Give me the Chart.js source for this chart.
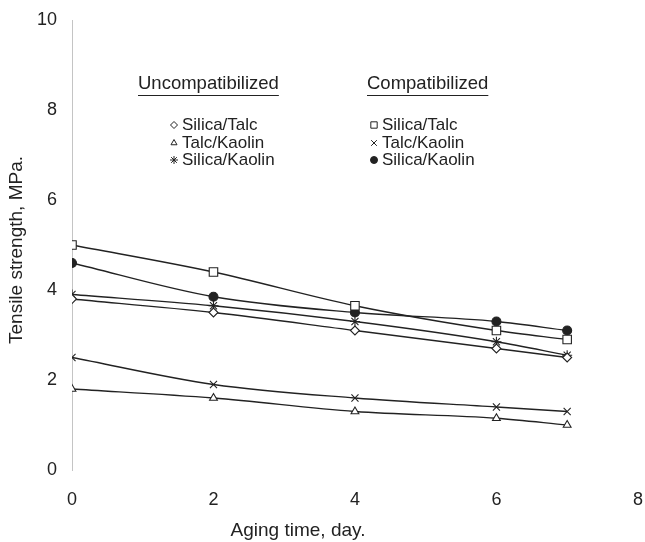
<!DOCTYPE html>
<html lang="en">
<head>
    <meta charset="UTF-8">
    <script src="https://cdn.jsdelivr.net/npm/chart.js"></script>
    <title>Tensile strength vs aging time</title>
    <style>
        html, body { margin: 0; padding: 0; background: #fff; }
        .chart-area { width: 645px; height: 542px; }
    </style>
</head>
<body>
    <div class="chart-area"><canvas id="grafico" width="645" height="542"></canvas></div>

<script>
    // dados
    const dias = [0, 2, 4, 6, 7];
    const uncSilicaTalc = [3.8, 3.5, 3.1, 2.7, 2.5];
    const uncTalcKaolin = [1.8, 1.6, 1.3, 1.15, 1.0];
    const uncSilicaKaolin = [3.9, 3.65, 3.3, 2.85, 2.55];
    const compSilicaTalc = [5.0, 4.4, 3.65, 3.1, 2.9];
    const compTalcKaolin = [2.5, 1.9, 1.6, 1.4, 1.3];
    const compSilicaKaolin = [4.6, 3.85, 3.5, 3.3, 3.1];

    const xTicks = [0, 2, 4, 6, 8];
    const yTicks = [0, 2, 4, 6, 8, 10];

    const fonte = '"Liberation Sans", Arial, sans-serif';
    const cor = '#222';

    function pontos(valores) {
        return dias.map((d, i) => ({ x: d, y: valores[i] }));
    }

    function serie(label, valores, estilo, raio, preenchido) {
        return {
            label: label,
            data: pontos(valores),
            borderColor: cor,
            borderWidth: 1.3,
            pointStyle: estilo,
            pointRadius: raio,
            pointHoverRadius: raio,
            pointBorderWidth: 1.1,
            pointBorderColor: cor,
            pointBackgroundColor: preenchido ? cor : '#fff',
            showLine: true,
            fill: false,
            cubicInterpolationMode: 'monotone'
        };
    }

    const legendaItens = [
        { col: 0, row: 0, texto: 'Silica/Talc', estilo: 'rectRot', raio: 3.5, cheio: false },
        { col: 0, row: 1, texto: 'Talc/Kaolin', estilo: 'triangle', raio: 3.5, cheio: false },
        { col: 0, row: 2, texto: 'Silica/Kaolin', estilo: 'star', raio: 4, cheio: false },
        { col: 1, row: 0, texto: 'Silica/Talc', estilo: 'rect', raio: 4.5, cheio: false },
        { col: 1, row: 1, texto: 'Talc/Kaolin', estilo: 'crossRot', raio: 4, cheio: false },
        { col: 1, row: 2, texto: 'Silica/Kaolin', estilo: 'circle', raio: 3.5, cheio: true }
    ];

    const legendaPlugin = {
        id: 'legendaCustom',
        afterDraw(chart) {
            const ctx = chart.ctx;
            ctx.save();
            ctx.fillStyle = cor;
            ctx.strokeStyle = cor;
            ctx.textBaseline = 'middle';

            // títulos dos eixos
            ctx.font = '19px ' + fonte;
            ctx.textAlign = 'center';
            ctx.fillText('Aging time, day.', 298, 531);
            ctx.save();
            ctx.translate(17, 250);
            ctx.rotate(-Math.PI / 2);
            ctx.fillText('Tensile strength, MPa.', 0, 0);
            ctx.restore();

            ctx.textAlign = 'left';
            ctx.font = '18.5px ' + fonte;
            const titulos = [
                { texto: 'Uncompatibilized', x: 138, y: 84 },
                { texto: 'Compatibilized', x: 367, y: 84 }
            ];
            titulos.forEach(t => {
                ctx.fillText(t.texto, t.x, t.y);
                const w = ctx.measureText(t.texto).width;
                ctx.lineWidth = 1;
                ctx.beginPath();
                ctx.moveTo(t.x, t.y + 11.5);
                ctx.lineTo(t.x + w, t.y + 11.5);
                ctx.stroke();
            });

            ctx.font = '17px ' + fonte;
            const colX = [174, 374];
            const linhaY = [125, 143, 160];
            legendaItens.forEach(item => {
                const mx = colX[item.col];
                const my = linhaY[item.row];
                ctx.fillStyle = item.cheio ? cor : '#fff';
                ctx.strokeStyle = cor;
                ctx.lineWidth = 1;
                Chart.helpers.drawPoint(ctx, {
                    pointStyle: item.estilo,
                    radius: item.raio,
                    rotation: 0,
                    borderWidth: 1
                }, mx, my);
                ctx.fillStyle = cor;
                ctx.fillText(item.texto, mx + 8, my);
            });
            ctx.restore();
        }
    };

    const ctx = document.getElementById('grafico').getContext('2d');
    window.chart = new Chart(ctx, {
        type: 'scatter',
        data: {
            datasets: [
                serie('Uncompatibilized Silica/Talc', uncSilicaTalc, 'rectRot', 4.5, false),
                serie('Uncompatibilized Talc/Kaolin', uncTalcKaolin, 'triangle', 4.5, false),
                serie('Uncompatibilized Silica/Kaolin', uncSilicaKaolin, 'star', 5, false),
                serie('Compatibilized Silica/Talc', compSilicaTalc, 'rect', 6, false),
                serie('Compatibilized Talc/Kaolin', compTalcKaolin, 'crossRot', 5, false),
                serie('Compatibilized Silica/Kaolin', compSilicaKaolin, 'circle', 4.5, true)
            ]
        },
        options: {
            responsive: false,
            animation: false,
            layout: { padding: { top: 20, right: 6, left: 0, bottom: 0 } },
            plugins: {
                legend: { display: false },
                tooltip: { enabled: false }
            },
            scales: {
                x: {
                    type: 'linear',
                    min: 0,
                    max: 8,
                    afterBuildTicks: (scale) => { scale.ticks = xTicks.map(v => ({ value: v })); },
                    afterFit: (scale) => {
                        scale.height = 72;
                        scale.paddingLeft = 0;
                        scale.paddingRight = 0;
                    },
                    grid: { display: false, drawTicks: false },
                    border: { display: false },
                    ticks: { color: cor, padding: 19, font: { size: 18, family: fonte } }
                },
                y: {
                    type: 'linear',
                    min: 0,
                    max: 10,
                    afterBuildTicks: (scale) => { scale.ticks = yTicks.map(v => ({ value: v })); },
                    afterFit: (scale) => {
                        scale.width = 72;
                        scale.paddingTop = 0;
                        scale.paddingBottom = 0;
                    },
                    grid: { display: false, drawTicks: false },
                    border: { display: true, color: '#c4c4c4', width: 1, dash: [1, 3] },
                    ticks: { color: cor, padding: 15, font: { size: 18, family: fonte } }
                }
            }
        },
        plugins: [legendaPlugin]
    });
</script>
</body>
</html>
